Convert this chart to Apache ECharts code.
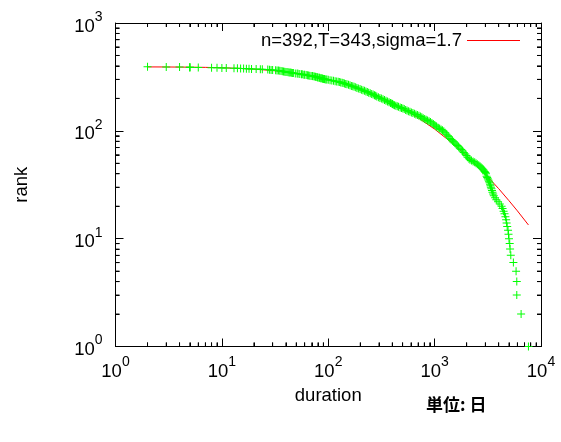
<!DOCTYPE html>
<html><head><meta charset="utf-8">
<script src="https://cdn.jsdelivr.net/npm/echarts@6/dist/echarts.min.js"></script>
<style>html,body{margin:0;padding:0;background:#fff}#c{width:561px;height:442px}</style>
</head><body><div id="c"></div>
<script>
// ---- data ----
const durations = [
2,3,4,5,5,5,6,8,9,10,11,13,14,15,16,17,18,19,21,23,24,27,
28,29,30,32,
33,34,35,36,37,38,39,40,41,42,43,44,45,46,47,
49,51,52,54,56,57,59,60,62,64,65,67,
69,71,72,74,76,77,79,80,82,83,85,86,88,89,90,92,93,95,97,
100,104,108,112,116,120,124,128,131,135,138,
142,146,150,155,160,165,170,175,181,186,192,199,
205,212,219,226,233,240,248,256,264,272,279,286,
296,306,316,327,338,349,361,373,385,395,402,409,
420,432,445,458,474,
488,503,518,534,550,567,586,
605,625,646,667,689,712,735,758,781,
806,832,858,886,914,943,973,1003,1030,1045,
1080,1115,1150,1185,1220,1255,1290,1330,1360,1395,
1430,1470,1510,1550,1590,1630,1680,1730,
1780,1830,1880,1940,1990,2040,2100,2150,
2220,2300,2380,2450,2520,2600,2670,
2730,2790,2850,2900,2950,3000,3040,3080,
3120,3160,3200,3240,3280,3320,3350,3380,3420,3460,3500,3550,3600,
3700,3800,3950,4100,4260,
4350,4450,4540,4630,
4700,4750,4810,4900,4950,5000,5080,5120,5200,5500,5830,5920,5920,6500,7620
];
const ranks = [
392,391,390,389,388,387,386,385,384,383,382,381,380,379,378,377,376,375,374,373,372,370,
369,367,366,364,
363,362,360,358,357,355,354,352,351,350,348,347,345,344,343,
341,340,338,337,335,334,332,331,329,328,326,325,
323,322,320,319,317,316,314,313,311,310,308,307,305,304,303,302,301,300,299,
297,295,293,291,289,287,285,283,281,279,277,
275,272,270,267,264,261,259,256,253,250,247,244,
241,238,235,232,229,226,223,220,217,214,211,208,
205,202,199,196,193,190,187,184,181,179,177,175,
173,171,169,167,165,
163,161,159,156,154,152,150,
148,146,144,142,140,138,136,134,131,
129,127,125,123,121,118,116,113,111,109,
107,105,103,101,99,96,93,90,88,85,
83,81,79,77,75,73,71,69,
67,65,63,61,59,57,55,54,
53,52,51,50,49,48,47,
46,45,44,43,42,41,40,38,
37,36,35,34,33,32,31,30,29,28,27,26,25,
24,23,22,21,20,
19,18,17,16,
15,14,13,12,11,10,9,8,7,6,5,4,3,2,1
];
const fitX = [2,3,5,7,10,15,20,30,50,70,100,150,200,300,500,700,1000,1500,2000,3000,4000,5000,6000,7620];
const fitY = [391.5,391.0,389.5,387.7,384.6,379.1,373.5,362.3,341.6,323.4,300.2,269.2,244.8,208.3,161.6,132.2,103.7,75.5,58.7,39.6,29.1,22.5,18.1,13.4];
const fitLabel = 'n=392,T=343,sigma=1.7';
const xMajorTicks = [10,100,1000];
const yMajorTicks = [10,100];
const xMinorTicks = [2,3,4,5,6,7,8,9,20,30,40,50,60,70,80,90,200,300,400,500,600,700,800,900,2000,3000,4000,5000,6000,7000,8000,9000];
const yMinorTicks = [2,3,4,5,6,7,8,9,20,30,40,50,60,70,80,90,200,300,400,500,600,700,800,900];
const xName = 'duration';
const yName = 'rank';
const unitNote = '単位: 日';

// ---- chart ----
const FONT = '"Liberation Sans", Arial, sans-serif';
const FS = 18.5;
const X0 = 1, X1 = 10000, Y0 = 1, Y1 = 1000;
const GL = 115.5, GR = 20, GT = 23, GB = 95.5;
const GW = 561 - GL - GR, GH = 442 - GT - GB;
const chart = echarts.init(document.getElementById('c'), null, {renderer: 'canvas'});
const rich = {
  a: {fontSize: FS, fontFamily: FONT, color: '#000', padding: [7, 0, 0, 0], verticalAlign: 'bottom'},
  b: {fontSize: 14, fontFamily: FONT, color: '#000', verticalAlign: 'top'}
};
function powLabel(v) {
  const e = Math.round(Math.log10(v));
  return '{a|10}{b|' + e + '}';
}
const black = {color: '#000', width: 1};

// tick-only axes: an axis on the opposite side moved onto the border, so its
// outward ticks point into the plot (gnuplot style inward, mirrored ticks)
function tickAxis(kind, position, offset, len, custom) {
  const min = kind === 'x' ? X0 : Y0, max = kind === 'x' ? X1 : Y1;
  const t = {show: true, inside: false, length: len, lineStyle: {color: '#000', width: 1}};
  if (custom) t.customValues = custom;
  return {type: 'log', logBase: 10, min: min, max: max, position: position, offset: offset,
          axisLine: {show: false}, axisTick: t, axisLabel: {show: false}, splitLine: {show: false},
          minorTick: {show: false}, axisPointer: {show: false}};
}

// backup ticks as tiny scatter bars
function tickSeries(data, size, offset) {
  return {type: 'scatter', data: data, symbol: 'rect', symbolSize: size, symbolOffset: offset,
          itemStyle: {color: '#000', opacity: 1}, silent: true, clip: false, z: 4,
          legendHoverLink: false, emphasis: {disabled: true}, xAxisIndex: 0, yAxisIndex: 0};
}
const tickSeriesList = [
  tickSeries(xMinorTicks.map(v => [v, Y0]), [1, 4], [0, -2]),
  tickSeries(xMinorTicks.map(v => [v, Y1]), [1, 4], [0, 2]),
  tickSeries(yMinorTicks.map(v => [X0, v]), [4, 1], [2, 0]),
  tickSeries(yMinorTicks.map(v => [X1, v]), [4, 1], [-2, 0])
];

const option = {
  animation: false,
  grid: {left: GL, right: GR, top: GT, bottom: GB, containLabel: false},
  legend: {
    data: [fitLabel], right: 41, top: 31, padding: 0, align: 'right',
    icon: 'rect', itemWidth: 53, itemHeight: 1,
    textStyle: {fontSize: FS, fontFamily: FONT, color: '#000'}
  },
  xAxis: [
    {type: 'log', logBase: 10, min: X0, max: X1, position: 'bottom',
     axisLine: {show: true, onZero: false, lineStyle: black},
     axisTick: {show: false},
     axisLabel: {show: true, margin: 9, formatter: powLabel, rich: rich},
     splitLine: {show: false},
     name: xName, nameLocation: 'middle', nameGap: 35,
     nameTextStyle: {fontSize: FS, fontFamily: FONT, color: '#000'}},
    {type: 'log', logBase: 10, min: X0, max: X1, position: 'top',
     axisLine: {show: true, onZero: false, lineStyle: black},
     axisTick: {show: false}, axisLabel: {show: false}, splitLine: {show: false}},
    tickAxis('x', 'top', -GH, 8),
    tickAxis('x', 'bottom', -GH, 8),
    tickAxis('x', 'top', -GH, 4, xMinorTicks),
    tickAxis('x', 'bottom', -GH, 4, xMinorTicks)
  ],
  yAxis: [
    {type: 'log', logBase: 10, min: Y0, max: Y1, position: 'left',
     axisLine: {show: true, onZero: false, lineStyle: black},
     axisTick: {show: false},
     axisLabel: {show: true, margin: 13, formatter: powLabel, rich: rich},
     splitLine: {show: false},
     name: yName, nameLocation: 'middle', nameGap: 84, nameRotate: 90,
     nameTextStyle: {fontSize: FS, fontFamily: FONT, color: '#000'}},
    {type: 'log', logBase: 10, min: Y0, max: Y1, position: 'right',
     axisLine: {show: true, onZero: false, lineStyle: black},
     axisTick: {show: false}, axisLabel: {show: false}, splitLine: {show: false}},
    tickAxis('y', 'right', -GW, 8),
    tickAxis('y', 'left', -GW, 8),
    tickAxis('y', 'right', -GW, 4, yMinorTicks),
    tickAxis('y', 'left', -GW, 4, yMinorTicks)
  ],
  series: [
    {
      type: 'line', name: fitLabel, xAxisIndex: 0, yAxisIndex: 0, z: 2,
      data: fitX.map((x, i) => [x, fitY[i]]),
      showSymbol: false, symbol: 'none', smooth: false,
      lineStyle: {color: '#ff0000', width: 1}, itemStyle: {color: '#ff0000'}
    },
    {
      type: 'scatter', name: 'data', xAxisIndex: 0, yAxisIndex: 0, z: 3,
      data: durations.map((d, i) => [d, ranks[i]]),
      symbol: 'path://M0,3.5H8V4.5H0Z M3.5,0H4.5V8H3.5Z', symbolSize: 8,
      itemStyle: {color: '#00ff00', opacity: 1}
    }
  ].concat(tickSeriesList),
  graphic: [
    {type: 'text', left: 426, top: 396,
     style: {text: unitNote, font: 'bold 17px "Noto Sans CJK JP"', fill: '#000'}}
  ]
};
chart.setOption(option);
</script>
</body></html>
